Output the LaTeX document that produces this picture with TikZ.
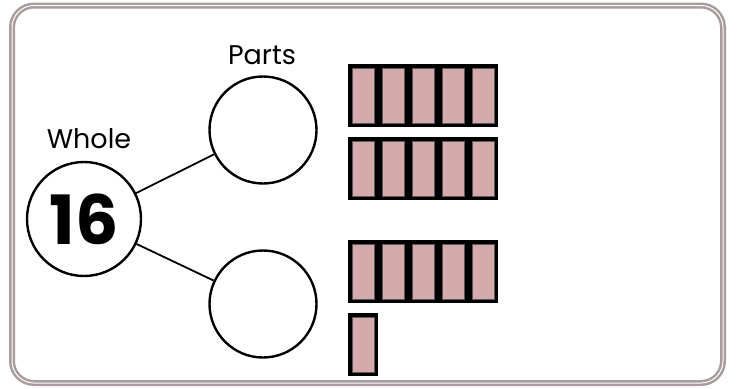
\documentclass[tikz,border=0pt]{standalone}
\usepackage{fontspec}
\setmainfont{Poppins}
\definecolor{framegray}{HTML}{A89C9C}
\definecolor{barpink}{HTML}{D5AAAB}
\begin{document}
\begin{tikzpicture}[x=1pt,y=-1pt,
  ring/.style={circle,draw=black,line width=2.4pt,minimum size=#1,inner sep=0pt},
  lbl/.style={font=\fontsize{27}{30}\selectfont,inner sep=0pt},
  link/.style={line width=1.8pt,black}]
\useasboundingbox (0,0) rectangle (738,388);
\draw[framegray,line width=6pt,rounded corners=22pt] (12,5.5) rectangle (723,383);
\draw[white,line width=1pt,rounded corners=22pt] (12,5.5) rectangle (723,383);
\node[ring=114pt] (whole) at (84,219) {\fontsize{68}{70}\selectfont\bfseries 16};
\node[ring=107pt] (top) at (263,130) {};
\node[ring=107pt] (bot) at (263,304) {};
\node[lbl] (wl) at (89,139) {Whole};
\node[lbl] (pl) at (262,55) {Parts};
\draw[link] (whole) -- (top);
\draw[link] (whole) -- (bot);
\newcommand{\barcell}[2]{%
  \fill[black] (#1,#2) rectangle ++(30,63);
  \fill[barpink,draw=gray!70!black,line width=0.6pt] (#1+4,#2+4) rectangle ++(22,55);}
\foreach \i in {0,...,4}{
  \barcell{348+30*\i}{64}
  \barcell{348+30*\i}{137}
  \barcell{348+30*\i}{240}
}
\barcell{348}{313}
\end{tikzpicture}
\end{document}
